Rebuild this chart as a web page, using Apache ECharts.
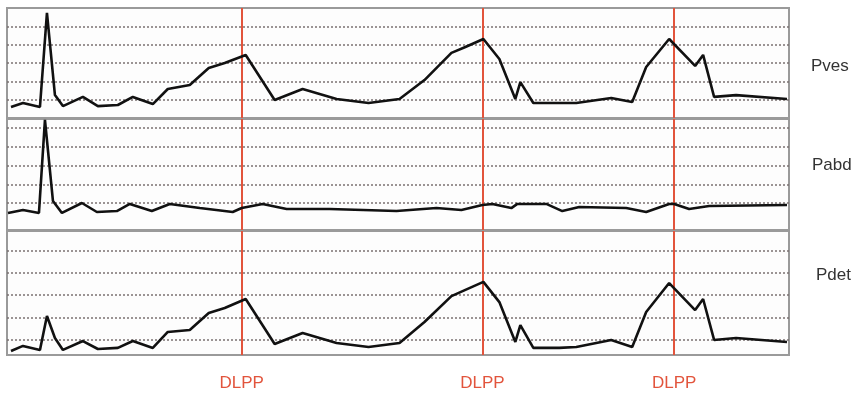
<!DOCTYPE html>
<html>
<head>
<meta charset="utf-8">
<title>Pves / Pabd / Pdet</title>
<script src="https://cdn.jsdelivr.net/npm/echarts@6/dist/echarts.min.js"></script>
<style>
  html, body { margin: 0; padding: 0; background: #fff; }
  #chart { width: 851px; height: 394px; }
</style>
</head>
<body>
<div id="chart"></div>
<script>
// time (s) shared by Pves and Pdet traces
const tMain = [0.8, 3.2, 6.6, 8.0, 9.6, 11.2, 15.2, 18.2, 22.2, 25.2, 29.2, 32.2, 36.6, 40.4, 43.6, 47.8,
  53.6, 59.2, 66.0, 72.4, 78.6, 83.6, 89.0, 91.8, 95.4, 98.6, 101.8, 102.8, 105.4, 110.6, 114.0,
  121.0, 125.2, 128.0, 132.6, 137.8, 139.4, 141.6, 146.0, 156.2]
const pves = [6.0, 8.2, 6.0, 57.3, 12.5, 6.5, 11.5, 6.5, 7.1, 11.5, 7.6, 15.8, 18.0, 27.3, 30.0, 34.4,
  9.8, 15.8, 10.4, 8.2, 10.4, 20.7, 35.5, 38.7, 43.1, 32.2, 10.4, 19.6, 8.2, 8.2, 8.2,
  10.9, 8.7, 27.8, 43.1, 28.4, 34.4, 11.5, 12.5, 10.4]
const pdet = [4.8, 7.1, 5.3, 20.6, 10.7, 5.3, 9.3, 5.7, 6.2, 9.3, 6.2, 13.4, 14.3, 22.0, 24.2, 28.3,
  8.0, 12.9, 8.4, 6.6, 8.4, 17.9, 29.6, 32.4, 36.0, 26.9, 8.9, 16.5, 6.2, 6.2, 6.6,
  9.8, 6.6, 22.4, 35.5, 23.3, 28.3, 9.8, 10.7, 8.9]

// Pabd trace has its own sampling
const tAbd = [0.2, 3.2, 6.4, 7.6, 9.2, 11.0, 15.0, 18.0, 22.0, 24.6, 29.0, 32.6, 38.6, 45.2, 47.0, 51.2,
  56.0, 64.6, 78.0, 86.0, 91.0, 95.2, 97.2, 101.0, 102.2, 108.0, 111.2, 114.6, 124.0, 128.0,
  132.6, 133.6, 136.6, 140.6, 156.2]
const pabd = [4.7, 6.3, 4.7, 54.3, 11.1, 4.7, 10.0, 5.2, 5.7, 9.5, 5.7, 9.5, 7.3, 5.2, 7.3, 9.5,
  6.8, 6.8, 5.7, 7.3, 6.3, 8.9, 9.5, 7.3, 9.5, 9.5, 5.7, 7.9, 7.3, 5.2,
  9.5, 9.5, 6.8, 8.4, 8.9]

const dlppTimes = [47.0, 95.2, 133.6]
const gridLevels = [10, 20, 30, 40, 50]
const panelNames = ['Pves', 'Pabd', 'Pdet']

const redColor = '#e2543c'
const font = '"Liberation Sans", Arial, sans-serif'

// panel boxes and y ranges
const panels = [
  { top: 8, height: 110, min: 0, max: 60, t: tMain, v: pves, nameTop: 58, nameLeft: 811 },
  { top: 119, height: 111, min: -4.4, max: 54.8, t: tAbd, v: pabd, nameTop: 157, nameLeft: 812 },
  { top: 231, height: 124, min: 3, max: 59, t: tMain, v: pdet, nameTop: 267, nameLeft: 816 }
]

const chart = echarts.init(document.getElementById('chart'))

const grid = []
const xAxis = []
const yAxis = []
const series = []
const title = []

panels.forEach((p, i) => {
  grid.push({
    left: 7,
    right: 62,
    top: p.top,
    height: p.height,
    show: true,
    borderColor: '#9a9a9a',
    borderWidth: 2,
    backgroundColor: '#fdfdfd'
  })
  const last = i === panels.length - 1
  xAxis.push({
    type: 'value',
    gridIndex: i,
    min: 0,
    max: 156.6,
    axisLine: { show: false },
    axisTick: { show: false },
    splitLine: { show: false },
    axisLabel: last ? {
      show: true,
      customValues: dlppTimes,
      formatter: () => 'DLPP',
      color: redColor,
      fontSize: 17,
      fontFamily: font,
      margin: 20
    } : { show: false }
  })
  yAxis.push({
    type: 'value',
    gridIndex: i,
    min: p.min,
    max: p.max,
    show: false
  })
  // dotted reference levels + DLPP markers
  series.push({
    type: 'line',
    xAxisIndex: i,
    yAxisIndex: i,
    data: [],
    z: 2,
    silent: true,
    markLine: {
      silent: true,
      symbol: 'none',
      label: { show: false },
      animation: false,
      data: gridLevels.map(g => ({
        yAxis: g,
        lineStyle: { color: '#7b7171', type: [2, 2], width: 1.5 }
      })).concat(dlppTimes.map(d => ({
        xAxis: d,
        lineStyle: { color: redColor, type: 'solid', width: 2 }
      })))
    }
  })
  series.push({
    type: 'line',
    name: panelNames[i],
    xAxisIndex: i,
    yAxisIndex: i,
    data: p.t.map((t, k) => [t, p.v[k]]),
    showSymbol: false,
    symbol: 'none',
    z: 5,
    lineStyle: { color: '#111', width: 2.6 }
  })
  title.push({
    text: panelNames[i],
    left: p.nameLeft,
    top: p.nameTop,
    padding: 0,
    textStyle: { fontSize: 17, fontWeight: 'normal', color: '#333', fontFamily: font }
  })
})

chart.setOption({
  animation: false,
  title,
  grid,
  xAxis,
  yAxis,
  series
})
</script>
</body>
</html>
